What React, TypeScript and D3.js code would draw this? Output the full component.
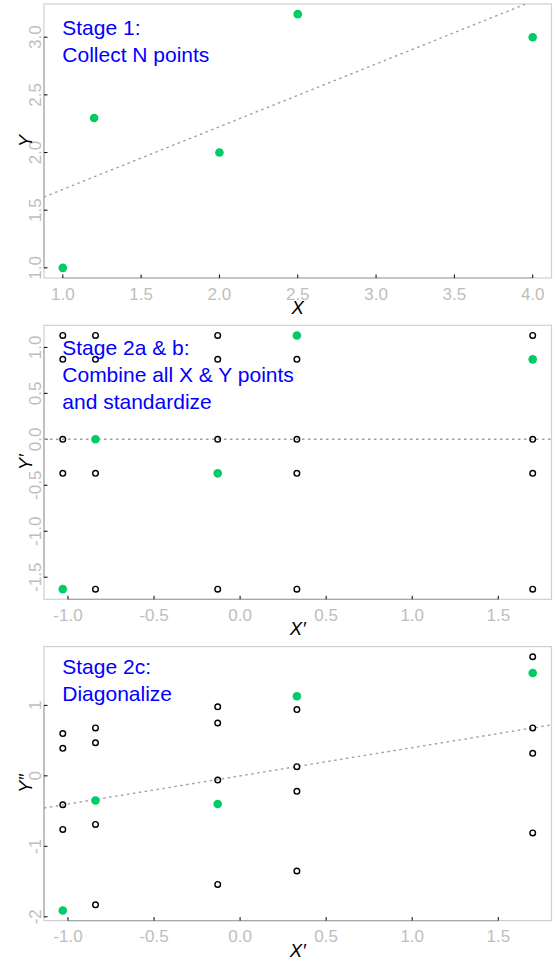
import React from "react";
import * as d3 from "d3";

const WIDTH = 553;
const HEIGHT = 958;

// Stage 1: raw observations
const rawX = [1.0, 1.2, 2.0, 2.5, 4.0];
const rawY = [1.0, 2.3, 2.0, 3.2, 3.0];
const rawFit = [1.136, 0.544]; // intercept, slope

// Stage 2a & b: standardized coordinates
const stdX = [-1.03, -0.84, -0.13, 0.33, 1.7];
const stdLevels = [1.13, 0.87, 0.0, -0.37, -1.63];
const stdY = [-1.63, 0.0, -0.37, 1.13, 0.87];
const stdFit = [0, 0];

// Stage 2c: diagonalized coordinates
const diagY = [-1.91, -0.35, -0.4, 1.13, 1.46];
const diagOthers = [
  [0.6, 0.39, -0.41, -0.76],
  [0.68, 0.47, -0.69, -1.83],
  [0.98, 0.75, -0.06, -1.54],
  [0.94, 0.13, -0.22, -1.35],
  [1.69, 0.68, 0.32, -0.81],
];
const diagFit = [0, 0.4];

// Axis ticks
const ticksRawX = [1.0, 1.5, 2.0, 2.5, 3.0, 3.5, 4.0];
const ticksRawY = [1.0, 1.5, 2.0, 2.5, 3.0];
const ticksStdX = [-1.0, -0.5, 0.0, 0.5, 1.0, 1.5];
const ticksStdY = [-1.5, -1.0, -0.5, 0.0, 0.5, 1.0];
const ticksDiagY = [-2, -1, 0, 1];

const titles = [
  ["Stage 1:", "Collect N points"],
  ["Stage 2a & b:", "Combine all X & Y points", "and standardize"],
  ["Stage 2c:", "Diagonalize"],
];

const GREEN = "#00CC66";
const FONT = "'Liberation Sans', Arial, sans-serif";

// plain hyphen for negative tick labels
const locale = d3.formatLocale({
  decimal: ".",
  thousands: ",",
  grouping: [3],
  currency: ["", ""],
  minus: "-",
});

type Pt = { x: number; y: number };

function padded(values: number[]): [number, number] {
  const [lo, hi] = d3.extent(values) as [number, number];
  const pad = (hi - lo) * 0.04;
  return [lo - pad, hi + pad];
}

type PanelProps = {
  idx: number;
  xs: number[];
  ysAll: number[];
  green: Pt[];
  open: Pt[];
  fit: number[];
  xTicks: number[];
  yTicks: number[];
  xFmt: (v: number) => string;
  yFmt: (v: number) => string;
  xTitle: string;
  yTitle: string;
  lines: string[];
  textOffset: number;
};

function Panel(p: PanelProps) {
  const left = 44;
  const right = 551.5;
  const top = 4 + p.idx * 321.3;
  const bottom = top + 274;
  const x = d3.scaleLinear().domain(padded(p.xs)).range([left, right]);
  const y = d3.scaleLinear().domain(padded(p.ysAll)).range([bottom, top]);
  const [x0, x1] = x.domain();
  const fitLine = d3
    .line<number>()
    .x((d) => x(d))
    .y((d) => y(p.fit[0] + p.fit[1] * d));
  const clipId = `clip-${p.idx}`;
  const textX = x(p.xs[0]) - 0.5;
  return (
    <g>
      <defs>
        <clipPath id={clipId}>
          <rect x={left} y={top} width={right - left} height={bottom - top} />
        </clipPath>
      </defs>
      <rect x={left} y={top} width={right - left} height={bottom - top} fill="white" stroke="#D0D0D0" strokeWidth={1.2} />
      {/* axis lines between first and last ticks */}
      <line x1={x(p.xTicks[0])} x2={x(p.xTicks[p.xTicks.length - 1])} y1={bottom} y2={bottom} stroke="#A8A8A8" strokeWidth={1.2} />
      <line x1={left} x2={left} y1={y(p.yTicks[0])} y2={y(p.yTicks[p.yTicks.length - 1])} stroke="#A8A8A8" strokeWidth={1.2} />
      {p.xTicks.map((t) => (
        <g key={"xt" + t}>
          <line x1={x(t)} x2={x(t)} y1={bottom} y2={bottom - 3.5} stroke="black" strokeWidth={1} />
          <text x={x(t)} y={bottom + 21.5} textAnchor="middle" fontSize={17} fill="#BEBEBE" fontFamily={FONT}>
            {p.xFmt(t)}
          </text>
        </g>
      ))}
      {p.yTicks.map((t) => (
        <g key={"yt" + t}>
          <line x1={left} x2={left + 3.5} y1={y(t)} y2={y(t)} stroke="black" strokeWidth={1} />
          <text
            transform={`translate(41,${y(t)}) rotate(-90)`}
            textAnchor="middle"
            fontSize={17}
            fill="#BEBEBE"
            fontFamily={FONT}
          >
            {p.yFmt(t)}
          </text>
        </g>
      ))}
      <text x={(left + right) / 2} y={bottom + 36} textAnchor="middle" fontSize={18.5} fontStyle="italic" fontFamily={FONT} fill="black">
        {p.xTitle}
      </text>
      <text
        transform={`translate(31.7,${(top + bottom) / 2}) rotate(-90)`}
        textAnchor="middle"
        fontSize={18.5}
        fontStyle="italic"
        fontFamily={FONT}
        fill="black"
      >
        {p.yTitle}
      </text>
      <path d={fitLine([x0, x1]) || ""} clipPath={`url(#${clipId})`} fill="none" stroke="#A0A0A0" strokeWidth={1.4} strokeDasharray="2.5 3.5" />
      {p.open.map((d, i) => (
        <circle key={"o" + i} cx={x(d.x)} cy={y(d.y)} r={2.8} fill="none" stroke="black" strokeWidth={1.4} />
      ))}
      {p.green.map((d, i) => (
        <circle key={"g" + i} cx={x(d.x)} cy={y(d.y)} r={4.3} fill={GREEN} />
      ))}
      {p.lines.map((s, i) => (
        <text key={"t" + i} x={textX} y={top + p.textOffset + i * 27} fontSize={21} fill="#0000FF" fontFamily={FONT}>
          {s}
        </text>
      ))}
    </g>
  );
}

export default function App() {
  const f1 = locale.format(".1f");
  const fInt = locale.format("d");

  const rawPts: Pt[] = rawX.map((v, i) => ({ x: v, y: rawY[i] }));

  const stdPts: Pt[] = stdX.map((v, i) => ({ x: v, y: stdY[i] }));
  const stdOpen: Pt[] = [];
  stdX.forEach((v, i) => {
    stdLevels.forEach((l) => {
      if (l !== stdY[i]) stdOpen.push({ x: v, y: l });
    });
  });

  const diagPts: Pt[] = stdX.map((v, i) => ({ x: v, y: diagY[i] }));
  const diagOpen: Pt[] = [];
  stdX.forEach((v, i) => diagOthers[i].forEach((l) => diagOpen.push({ x: v, y: l })));
  const diagAll = diagY.concat(diagOthers.flat());

  return (
    <svg width={WIDTH} height={HEIGHT} style={{ position: "absolute", left: 0, top: 0, background: "white" }}>
      <rect width={WIDTH} height={HEIGHT} fill="white" />
      <Panel
        idx={0}
        xs={rawX}
        ysAll={rawY}
        green={rawPts}
        open={[]}
        fit={rawFit}
        xTicks={ticksRawX}
        yTicks={ticksRawY}
        xFmt={f1}
        yFmt={f1}
        xTitle="X"
        yTitle="Y"
        lines={titles[0]}
        textOffset={31}
      />
      <Panel
        idx={1}
        xs={stdX}
        ysAll={stdLevels}
        green={stdPts}
        open={stdOpen}
        fit={stdFit}
        xTicks={ticksStdX}
        yTicks={ticksStdY}
        xFmt={f1}
        yFmt={f1}
        xTitle="X′"
        yTitle="Y′"
        lines={titles[1]}
        textOffset={30}
      />
      <Panel
        idx={2}
        xs={stdX}
        ysAll={diagAll}
        green={diagPts}
        open={diagOpen}
        fit={diagFit}
        xTicks={ticksStdX}
        yTicks={ticksDiagY}
        xFmt={f1}
        yFmt={fInt}
        xTitle="X′"
        yTitle="Y″"
        lines={titles[2]}
        textOffset={27.5}
      />
    </svg>
  );
}
